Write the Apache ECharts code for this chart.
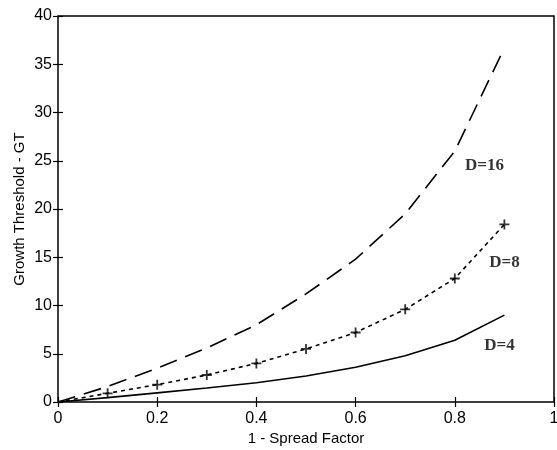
<!DOCTYPE html>
<html>
<head>
<meta charset="utf-8">
<script src="https://cdn.jsdelivr.net/npm/echarts@6/dist/echarts.min.js"></script>
<style>html,body{margin:0;padding:0;background:#fff}#c{width:557px;height:450px}</style>
</head>
<body>
<div id="c"></div>
<script>
const xValues = [0, 0.1, 0.2, 0.3, 0.4, 0.5, 0.6, 0.7, 0.8, 0.9];
const d4 = [0, 0.45, 0.95, 1.45, 2.0, 2.7, 3.6, 4.8, 6.4, 9.0];
const d8 = [0, 0.9, 1.8, 2.8, 4.0, 5.5, 7.2, 9.6, 12.8, 18.4];
const d16 = [0, 1.6, 3.5, 5.6, 8.0, 11.2, 14.8, 19.5, 26.0, 36.7];
const seriesNames = ['D=4', 'D=8', 'D=16'];
const labelPos = [[0.89, 5.8], [0.9, 14.4], [0.86, 24.5]];

const pairs = a => xValues.map((x, i) => [x, a[i]]);
const chart = echarts.init(document.getElementById('c'));
const tickStyle = {show: true, inside: true, length: 5, lineStyle: {color: '#000', width: 1.2}};
const font = 'Liberation Sans, Arial, sans-serif';
chart.setOption({
  animation: false,
  backgroundColor: '#fff',
  grid: {left: 58, right: 3, top: 16, bottom: 48, show: true, borderColor: '#000', borderWidth: 1.5,
    backgroundColor: 'transparent', containLabel: false, outerBoundsMode: 'none'},
  xAxis: [
    {type: 'value', min: 0, max: 1, interval: 0.2, name: '1 - Spread Factor', nameLocation: 'middle', nameGap: 29,
     nameMoveOverlap: false,
     nameTextStyle: {color: '#000', fontSize: 15, fontFamily: font},
     axisLine: {show: false}, axisTick: tickStyle, splitLine: {show: false},
     axisLabel: {color: '#000', fontSize: 16, fontFamily: font, margin: 9}},
    {type: 'value', position: 'top', min: 0, max: 1, interval: 0.2,
     axisLine: {show: false}, axisTick: tickStyle, splitLine: {show: false}, axisLabel: {show: false}}
  ],
  yAxis: [
    {type: 'value', min: 0, max: 40, interval: 5, name: 'Growth Threshold - GT', nameLocation: 'middle', nameGap: 31,
     nameMoveOverlap: false,
     nameTextStyle: {color: '#000', fontSize: 15, fontFamily: font},
     axisLine: {show: false}, axisTick: tickStyle, splitLine: {show: false},
     axisLabel: {color: '#000', fontSize: 16, fontFamily: font, margin: 6}},
    {type: 'value', position: 'right', min: 0, max: 40, interval: 5,
     axisLine: {show: false}, axisTick: tickStyle, splitLine: {show: false}, axisLabel: {show: false}}
  ],
  series: [
    {name: seriesNames[0], type: 'line', data: pairs(d4), symbol: 'none',
     lineStyle: {color: '#000', width: 1.6, type: 'solid'}},
    {name: seriesNames[1], type: 'line', data: pairs(d8), symbol: 'none',
     lineStyle: {color: '#000', width: 1.6, type: [4, 4]}},
    {name: seriesNames[1] + ' markers', type: 'scatter', data: pairs(d8).slice(1),
     symbol: 'path://M5,0L5,10M0,5L10,5', symbolSize: 10,
     itemStyle: {color: 'none', borderColor: '#000', borderWidth: 1.8}},
    {name: seriesNames[2], type: 'line', data: pairs(d16), symbol: 'none',
     lineStyle: {color: '#000', width: 1.6, type: [18, 9]}},
    {type: 'scatter', data: labelPos.map((p, i) => ({value: p, name: seriesNames[i]})), symbolSize: 0,
     label: {show: true, formatter: '{b}', position: 'inside', color: '#000', fontSize: 17, fontWeight: 'bold',
       fontFamily: 'Liberation Serif, Times New Roman, serif'}, silent: true}
  ]
});
</script>
</body>
</html>
